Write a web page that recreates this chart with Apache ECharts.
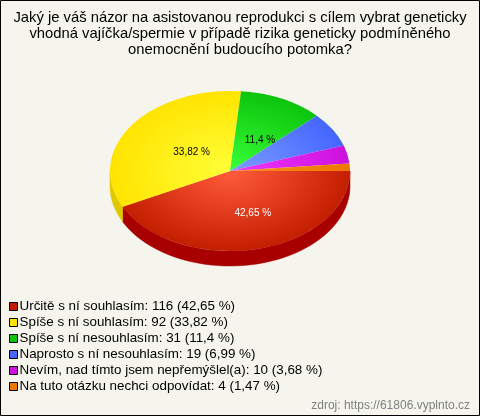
<!DOCTYPE html>
<html><head><meta charset="utf-8">
<style>html,body{margin:0;padding:0;background:#f5f5ed}#c{width:480px;height:416px}</style>
<script src="https://cdn.jsdelivr.net/npm/echarts@6/dist/echarts.min.js"></script>
</head><body><div id="c"></div>
<script>
const titleText = 'Jaký je váš názor na asistovanou reprodukci s cílem vybrat geneticky\nvhodná vajíčka/spermie v případě rizika geneticky podmíněného\nonemocnění budoucího potomka?';
const categories = ['Určitě s ní souhlasím','Spíše s ní souhlasím','Spíše s ní nesouhlasím','Naprosto s ní nesouhlasím','Nevím, nad tímto jsem nepřemýšlel(a)','Na tuto otázku nechci odpovídat'];
const values = [116,92,31,19,10,4];
const percents = ['42,65','33,82','11,4','6,99','3,68','1,47'];
const sourceText = 'zdroj: https://61806.vyplnto.cz';

const edgeColors = ['#c41e00','#ffe400','#0cc40c','#4466ff','#cc11dd','#ee7700'];
const centerColors = ['#ff5c3c','#ffff38','#38ff38','#7c9cff','#f038ff','#ff8e20'];
const wallColors = ['#a80000','#e0c800','#0a9a0a','#3344cc','#a000b0','#c06000'];
const labelColors = ['#ffffff','#000000','#000000',null,null,null];
const labelPos = [[0.19,0.35],[-0.32,-0.16],[0.25,-0.26],null,null,null];

const cx=230, cy=171, rx=120, ry=80, depth=15;
const total = values.reduce((a,b)=>a+b,0);
const starts = []; { let acc=0; values.forEach(v=>{starts.push(acc/total*Math.PI*2); acc+=v;}); }

function renderSlice(i){
  return function(){
    const a0=starts[i], a1=a0+values[i]/total*Math.PI*2;
    const children=[];
    const wa0=a0, wa1=Math.min(a1,Math.PI);
    if(wa0<Math.PI){
      const pts=[]; const n=48;
      for(let k=0;k<=n;k++){const t=wa0+(wa1-wa0)*k/n; pts.push([cx+rx*Math.cos(t),cy+ry*Math.sin(t)]);}
      for(let k=n;k>=0;k--){const t=wa0+(wa1-wa0)*k/n; pts.push([cx+rx*Math.cos(t),cy+depth+ry*Math.sin(t)]);}
      children.push({type:'polygon',shape:{points:pts},style:{fill:wallColors[i],stroke:wallColors[i],lineWidth:0.5}});
    }
    children.push({type:'sector',x:cx,y:cy,scaleY:ry/rx,
      shape:{cx:0,cy:0,r0:0,r:rx,startAngle:a0,endAngle:a1,clockwise:true},
      style:{fill:{type:'radial',x:0,y:0,r:rx,global:true,colorStops:[{offset:0,color:centerColors[i]},{offset:1,color:edgeColors[i]}]}}});
    if(labelPos[i]){
      children.push({type:'text',x:cx+labelPos[i][0]*rx,y:cy+labelPos[i][1]*rx,z2:10,
        style:{text:percents[i]+' %',fill:labelColors[i],font:'10px "Liberation Sans"',align:'center',verticalAlign:'middle'}});
    }
    return {type:'group',children};
  };
}

const chart=echarts.init(document.getElementById('c'),null,{renderer:'canvas'});
chart.setOption({
  animation:false,
  backgroundColor:'#f5f5ed',
  title:{text:titleText,left:235,top:5,textAlign:'center',
    textStyle:{fontFamily:'Liberation Sans',fontSize:14.8,fontWeight:'normal',color:'#000',lineHeight:16}},
  legend:{orient:'vertical',left:4,top:295,itemWidth:8,itemHeight:8,itemGap:3,selectedMode:false,icon:'rect',
    data:categories,
    itemStyle:{borderColor:'#000',borderWidth:1},
    textStyle:{fontFamily:'Liberation Sans',fontSize:13.4,color:'#000',padding:[0,0,0,-3],lineHeight:13},
    formatter:n=>{const i=categories.indexOf(n);return n+': '+values[i]+' ('+percents[i]+' %)';}},
  graphic:[
    {type:'rect',silent:true,z:100,shape:{x:0.5,y:0.5,width:479,height:415},style:{fill:'none',stroke:'#000',lineWidth:1}},
    {type:'text',silent:true,right:10,top:400,style:{text:sourceText,fill:'#808080',font:'12px "Liberation Sans"'}}
  ],
  series:categories.map((name,i)=>({
    type:'custom',name,coordinateSystem:'none',silent:true,
    itemStyle:{color:edgeColors[i]},
    renderItem:renderSlice(i),
    data:[values[i]]
  }))
});
</script></body></html>
